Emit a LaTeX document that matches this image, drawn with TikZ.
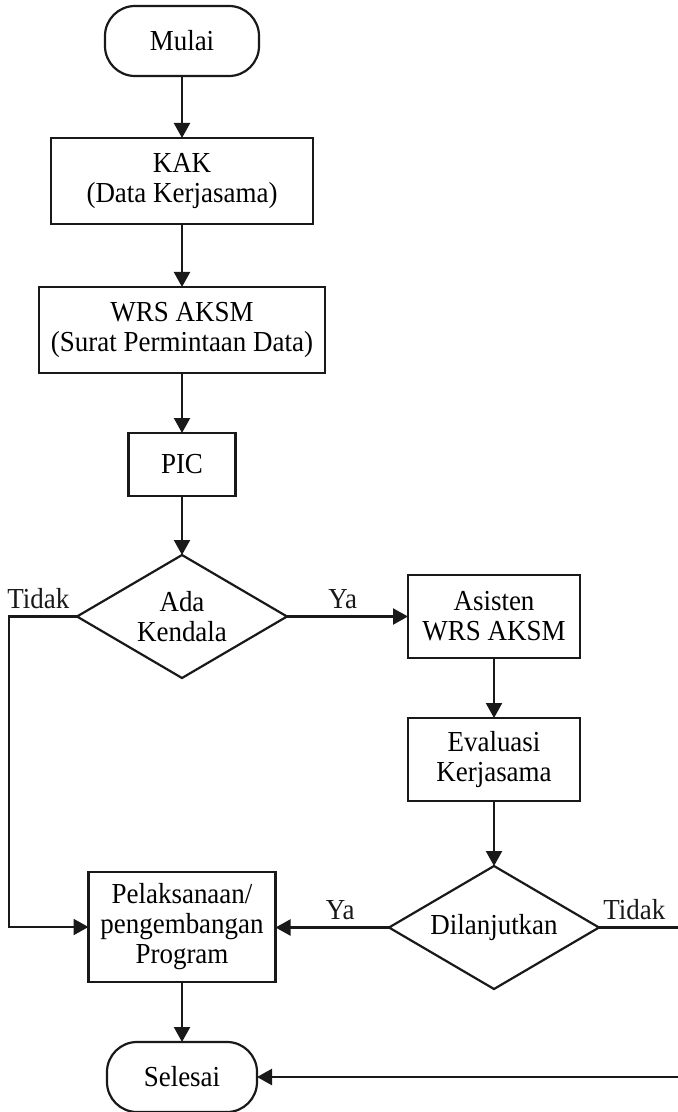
\documentclass[tikz,border=0pt]{standalone}
\usepackage{fontspec}
\setmainfont{Liberation Serif}[FakeStretch=0.93]
\usetikzlibrary{arrows.meta,positioning,shapes.geometric}

\begin{document}
\begin{tikzpicture}[
  x=0.5pt, y=-0.5pt,
  font=\fontsize{14.5pt}{15pt}\selectfont,
  box/.style={rectangle, draw=black!90, line width=1.1pt, inner sep=1pt, outer sep=0pt, align=center},
  term/.style={rectangle, rounded corners=15pt, draw=black!90, line width=1.1pt, outer sep=0pt,
               minimum width=77pt, minimum height=35pt, align=center},
  dec/.style={diamond, draw=black!90, line width=1.1pt, inner sep=0pt, outer sep=0pt, aspect=1.7,
              minimum width=105pt, minimum height=61.5pt, align=center},
  arr/.style={-{Triangle[length=7.5pt,width=8pt]}, line width=1.1pt, black!90},
  lbl/.style={inner sep=3.5pt}
]
\useasboundingbox (0,0) rectangle (677,1112);

\node[term] (mulai) at (182,41) {Mulai};
\node[box, minimum width=131pt, minimum height=43pt, below=31pt of mulai] (kak) {KAK\\(Data Kerjasama)};
\node[box, minimum width=143pt, minimum height=43pt, below=31.5pt of kak] (wrs) {WRS AKSM\\(Surat Permintaan Data)};
\node[box, minimum width=53.5pt, minimum height=31.5pt, below=30pt of wrs] (pic) {PIC};
\node[dec, below=29.5pt of pic] (ada) {Ada\\Kendala};
\node[box, minimum width=86pt, minimum height=41.5pt, right=60.5pt of ada] (asisten) {Asisten\\WRS AKSM};
\node[box, minimum width=86pt, minimum height=41.5pt, below=30pt of asisten] (evaluasi) {Evaluasi\\Kerjasama};
\node[dec, below=32.5pt of evaluasi] (lanjut) {Dilanjutkan};
\node[box, minimum width=93.5pt, minimum height=55pt, below=97pt of ada] (pel) {Pelaksanaan/\\pengembangan\\Program};
\node[term, minimum width=75pt, below=30pt of pel] (selesai) {Selesai};

% titik belok
\coordinate (kiri) at (9,0);
\coordinate (kanan) at (681,0);

\draw[arr] (mulai) -- (kak);
\draw[arr] (kak) -- (wrs);
\draw[arr] (wrs) -- (pic);
\draw[arr] (pic) -- (ada);
\draw[arr] (ada.east) -- node[lbl, above, pos=0.46] {Ya} (asisten.west);
\draw[arr] (ada.west) -- node[lbl, above, pos=0.57] {Tidak} (ada.west -| kiri) |- (pel.west);
\draw[arr] (asisten) -- (evaluasi);
\draw[arr] (evaluasi) -- (lanjut);
\draw[arr] (lanjut.west) -- node[lbl, above, pos=0.43] {Ya} (lanjut.west -| pel.east);
\draw[arr] (pel) -- (selesai);
\draw[arr] (lanjut.east) -- node[lbl, above, pos=0.43] {Tidak} (lanjut.east -| kanan) |- (selesai.east);
\end{tikzpicture}
\end{document}
